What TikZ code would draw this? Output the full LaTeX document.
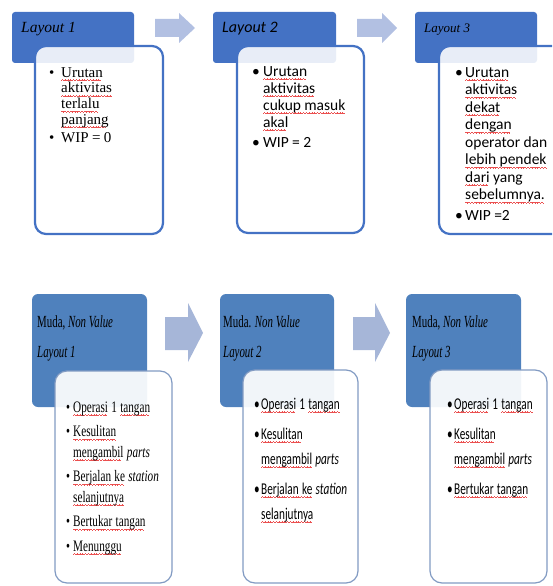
\documentclass[tikz,border=0pt]{standalone}
\usepackage{fontspec}
\setmainfont{Liberation Serif}
\newfontfamily\calibri{Carlito}
\newfontfamily\narrowserif[FakeStretch=0.7]{Liberation Serif}
\newfontfamily\narrowhead[FakeStretch=0.64]{Liberation Serif}
\newfontfamily\narrowsans[FakeStretch=0.68]{Carlito}
\usepackage{tikz}
\definecolor{hdblue}{HTML}{4472C4}
\definecolor{arrowblue}{RGB}{178,192,226}
\definecolor{hdsteel}{HTML}{4F81BD}
\definecolor{boxgray}{RGB}{130,155,195}
\definecolor{arrowsteel}{RGB}{166,182,216}
\definecolor{spell}{RGB}{235,80,80}
\newlength{\itmind}
\newsavebox{\sqbox}
% red wavy spelling mark under a word
\newcommand{\waveunit}{\hbox{\rule[-3.2pt]{.7pt}{.6pt}\rule[-2.7pt]{.7pt}{.6pt}\rule[-3.2pt]{.7pt}{.6pt}\rule[-3.7pt]{.7pt}{.6pt}}}
\newcommand{\sq}[1]{\leavevmode\sbox{\sqbox}{#1}\rlap{\hbox to\wd\sqbox{\color{spell}\leaders\waveunit\hfil}}\usebox{\sqbox}}
\newcommand{\itm}[1]{\par\noindent\hangindent=\itmind\hangafter=1\makebox[\itmind][l]{\textbullet}#1}
\newcommand{\listsetup}[4]{\fontsize{#1}{#2}\selectfont\setlength{\parskip}{#3}\setlength{\itmind}{#4}}
\tikzset{
  tophead/.style={fill=hdblue,rounded corners=3pt},
  topbody/.style={draw=hdblue,line width=2.2pt,fill=white,fill opacity=.88,rounded corners=11pt},
  toparrow/.style={fill=arrowblue},
  lowhead/.style={fill=hdsteel,rounded corners=6pt},
  lowbody/.style={draw=boxgray,line width=1.2pt,fill=white,fill opacity=.92,rounded corners=12pt},
  lowarrow/.style={fill=arrowsteel},
  headtext/.style={anchor=base west,inner sep=0pt},
  bulletlist/.style={anchor=north west,inner sep=0pt,align=left,text width=#1},
}

\begin{document}
\begin{tikzpicture}[x=1pt,y=-1pt]
\useasboundingbox (0,0) rectangle (552,586);
\clip (0,0) rectangle (552,586);
%top row: layouts
\fill[tophead] (12,12) rectangle (134,63);
\draw[topbody] (35,46) rectangle (163,234);
\fill[toparrow] (155,19) -- (179,19) -- (179,13) -- (195,28) -- (179,43) -- (179,37) -- (155,37) -- cycle;
\fill[tophead] (213,12) rectangle (336,63);
\draw[topbody] (237,46) rectangle (364,233);
\fill[toparrow] (357,19) -- (382,19) -- (382,13) -- (397,28) -- (382,43) -- (382,37) -- (357,37) -- cycle;
\fill[tophead] (415,12) rectangle (537,63);
\draw[topbody] (439,46) rectangle (580,234);
\node[headtext,font=\fontsize{15.5}{18}\selectfont\itshape] (hd1) at (21,33) {Layout 1};
\node[headtext,font=\calibri\fontsize{16}{18}\selectfont\itshape] (hd2) at (222,33) {Layout 2};
\node[headtext,font=\fontsize{13}{18}\selectfont\itshape] (hd3) at (424,33) {Layout 3};
\node[bulletlist=110pt] (list1) at (49,58.3) {\listsetup{15}{15.7}{3pt}{12pt}%
  \itm{\sq{Urutan}\newline \sq{aktivitas}\newline \sq{terlalu}\newline \sq{panjang}}
  \itm{WIP = 0}\par};
\node[bulletlist=110pt] (list2) at (252,56) {\calibri\listsetup{15.5}{17}{3pt}{11pt}%
  \itm{\sq{Urutan}\newline \sq{aktivitas}\newline \sq{cukup masuk}\newline \sq{akal}}
  \itm{WIP = 2}\par};
\node[bulletlist=110pt] (list3) at (455,56.5) {\calibri\listsetup{15.5}{17.5}{3pt}{10pt}%
  \itm{\sq{Urutan}\newline \sq{aktivitas}\newline \sq{dekat}\newline \sq{dengan}\newline operator dan\newline \sq{lebih pendek}\newline \sq{dari} yang\newline \sq{sebelumnya.}}
  \itm{WIP =2}\par};
%bottom row: muda
\fill[lowhead] (32,294) rectangle (147,407);
\draw[lowbody] (55,371) rectangle (172,583);
\fill[lowarrow] (165,317) -- (188,317) -- (188,303) -- (203,333) -- (188,362) -- (188,350) -- (165,350) -- cycle;
\fill[lowhead] (220,294) rectangle (334,407);
\draw[lowbody] (243,370) rectangle (358,583);
\fill[lowarrow] (353,317) -- (375,317) -- (375,303) -- (390,333) -- (375,362) -- (375,350) -- (353,350) -- cycle;
\fill[lowhead] (406,294) rectangle (521,407);
\draw[lowbody] (430,370) rectangle (547,583);
\node[headtext,font=\narrowhead\fontsize{17}{20}\selectfont] (muda1) at (37,327) {Muda, \textit{Non Value}};
\node[headtext,font=\narrowhead\fontsize{17}{20}\selectfont\itshape] (lay1) at (37,357) {Layout 1};
\node[headtext,font=\narrowhead\fontsize{17}{20}\selectfont] (muda2) at (223,327) {Muda. \textit{Non Value}};
\node[headtext,font=\narrowhead\fontsize{17}{20}\selectfont\itshape] (lay2) at (223,357) {Layout 2};
\node[headtext,font=\narrowhead\fontsize{17}{20}\selectfont] (muda3) at (412,327) {Muda, \textit{Non Value}};
\node[headtext,font=\narrowhead\fontsize{17}{20}\selectfont\itshape] (lay3) at (412,357) {Layout 3};
\node[bulletlist=105pt] (muda1list) at (66,387.5) {\narrowserif\listsetup{16}{20.5}{4pt}{7pt}%
  \itm{\sq{Operasi} 1 \sq{tangan}}
  \itm{\sq{Kesulitan}\newline \sq{mengambil} \textit{parts}}
  \itm{\sq{Berjalan ke} \textit{station}\newline \sq{selanjutnya}}
  \itm{\sq{Bertukar tangan}}
  \itm{\sq{Menunggu}}\par};
\node[bulletlist=100pt] (muda2list) at (254,379) {\narrowsans\listsetup{16.5}{25}{5pt}{7pt}%
  \itm{\sq{Operasi} 1 \sq{tangan}}
  \itm{\sq{Kesulitan}\newline \sq{mengambil} \textit{parts}}
  \itm{\sq{Berjalan ke} \textit{station}\newline \sq{selanjutnya}}\par};
\node[bulletlist=100pt] (muda3list) at (447,379) {\narrowsans\listsetup{16.5}{25}{5pt}{7pt}%
  \itm{\sq{Operasi} 1 \sq{tangan}}
  \itm{\sq{Kesulitan}\newline \sq{mengambil} \textit{parts}}
  \itm{\sq{Bertukar tangan}}\par};
\end{tikzpicture}
\end{document}
